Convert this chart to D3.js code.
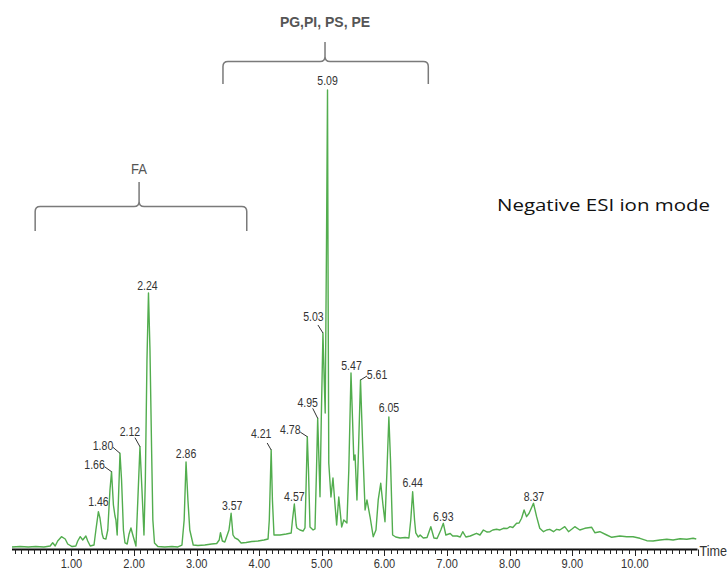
<!DOCTYPE html>
<html>
<head>
<meta charset="utf-8">
<script src="https://cdn.jsdelivr.net/npm/d3@7"></script>
<style>
  html, body { margin: 0; padding: 0; background: #fff; }
  svg { display: block; }
</style>
</head>
<body>
<svg id="chart" width="728" height="571"></svg>
<script>
// ---------------- DATA ----------------
// retention time (min)
const times = [
  0.05, 0.18, 0.31, 0.43, 0.56, 0.66, 0.70, 0.74, 0.78, 0.84, 0.90, 0.94,
  1.01, 1.07, 1.10, 1.14, 1.18, 1.23, 1.26, 1.30, 1.36, 1.39, 1.43, 1.455,
  1.49, 1.51, 1.55, 1.58, 1.615, 1.64, 1.67, 1.695, 1.71, 1.73, 1.75, 1.775,
  1.80, 1.83, 1.855, 1.89, 1.92, 1.95, 1.98, 2.03, 2.06, 2.094, 2.126, 2.158,
  2.18, 2.206, 2.23, 2.254, 2.28, 2.30, 2.326, 2.38, 2.49, 2.605, 2.70, 2.765,
  2.80, 2.83, 2.86, 2.89, 2.945, 3.02, 3.13, 3.24, 3.32, 3.36, 3.38, 3.41,
  3.45, 3.516, 3.55, 3.58, 3.61, 3.66, 3.71, 3.79, 3.88, 3.98, 4.075, 4.14,
  4.16, 4.19, 4.21, 4.235, 4.33, 4.43, 4.51, 4.53, 4.56, 4.59, 4.60, 4.65,
  4.70, 4.73, 4.746, 4.767, 4.786, 4.81, 4.86, 4.89, 4.914, 4.933, 4.953, 4.97,
  4.99, 5.017, 5.037, 5.053, 5.073, 5.09, 5.10, 5.11, 5.145, 5.177, 5.21, 5.236,
  5.27, 5.316, 5.35, 5.40, 5.43, 5.465, 5.49, 5.51, 5.53, 5.56, 5.585, 5.617,
  5.65, 5.69, 5.72, 5.77, 5.82, 5.864, 5.90, 5.94, 5.976, 6.008, 6.04, 6.07,
  6.096, 6.115, 6.13, 6.18, 6.25, 6.33, 6.39, 6.42, 6.45, 6.48, 6.50, 6.54,
  6.57, 6.62, 6.68, 6.74, 6.79, 6.84, 6.90, 6.94, 6.98, 7.05, 7.09, 7.16,
  7.21, 7.25, 7.30, 7.37, 7.47, 7.525, 7.58, 7.64, 7.685, 7.73, 7.79, 7.845,
  7.90, 7.96, 8.005, 8.05, 8.11, 8.15, 8.19, 8.23, 8.27, 8.31, 8.38, 8.43,
  8.48, 8.54, 8.59, 8.64, 8.70, 8.75, 8.80, 8.88, 8.94, 8.99, 9.04, 9.12,
  9.20, 9.31, 9.36, 9.44, 9.55, 9.63, 9.76, 9.87, 9.97, 10.08, 10.19, 10.29,
  10.40, 10.51, 10.61, 10.72, 10.83, 10.93, 10.98
];
// relative intensity (%)
const intensities = [
  0.44, 0.54, 0.44, 0.54, 0.44, 0.65, 1.37, 0.65, 1.74, 2.68, 2.18, 1.09,
  0.54, 0.65, 1.74, 2.68, 1.96, 2.83, 1.74, 0.65, 0.87, 4.14, 8.13, 6.75,
  3.27, 2.33, 2.18, 4.14, 12.85, 16.84, 9.59, 7.19, 6.32, 3.05, 10.68, 20.85,
  15.03, 4.14, 1.31, 1.09, 3.27, 4.58, 3.05, 0.65, 10.68, 22.29, 12.85, 3.05,
  15.03, 41.18, 55.77, 43.35, 21.57, 6.32, 1.31, 0.54, 0.44, 0.54, 0.44, 0.87,
  6.32, 18.95, 10.68, 4.14, 0.87, 0.76, 0.87, 1.09, 1.20, 1.96, 3.55, 1.74,
  1.52, 4.14, 7.78, 3.05, 2.40, 2.07, 1.31, 1.42, 1.63, 1.74, 1.96, 2.18,
  6.32, 21.57, 10.68, 3.05, 3.05, 3.27, 3.49, 6.32, 9.80, 5.23, 4.58, 4.14,
  3.92, 4.58, 12.85, 24.47, 17.21, 4.79, 4.14, 4.36, 17.21, 28.47, 19.39, 11.39,
  28.10, 47.06, 36.82, 29.63, 65.14, 100.0, 54.25, 18.74, 11.33, 15.47, 9.59, 5.23,
  11.33, 4.79, 6.32, 5.66, 17.21, 38.34, 28.10, 19.39, 20.48, 10.68, 21.57, 36.82,
  23.09, 8.50, 10.68, 6.97, 2.68, 4.14, 10.68, 14.31, 9.59, 5.95, 17.21, 28.76,
  19.39, 10.02, 3.05, 2.61, 2.40, 2.51, 2.40, 6.32, 12.48, 6.32, 3.49, 2.61,
  3.05, 2.40, 2.51, 4.86, 2.40, 2.29, 4.14, 5.60, 3.05, 3.38, 2.83, 2.83,
  2.61, 3.77, 2.61, 2.83, 3.42, 3.05, 4.14, 3.70, 3.77, 4.14, 4.29, 4.14,
  4.51, 4.47, 4.86, 4.68, 5.60, 5.66, 6.69, 8.50, 7.04, 7.78, 9.96, 7.04,
  4.51, 3.77, 4.14, 4.29, 3.77, 4.29, 4.14, 4.86, 3.77, 4.29, 4.86, 4.14,
  4.51, 4.73, 3.55, 3.77, 3.05, 2.55, 2.83, 2.68, 2.68, 2.33, 1.81, 1.74,
  1.96, 2.11, 1.96, 2.24, 2.11, 2.33, 2.18
];
// labelled peaks (retention times)
const peakLabels = ["1.46","1.66","1.80","2.12","2.24","2.86","3.57","4.21","4.57",
  "4.78","4.95","5.03","5.09","5.47","5.61","6.05","6.44","6.93","8.37"];
// x axis tick labels
const tickValues = [1,2,3,4,5,6,7,8,9,10];
const tickLabels = ["1.00","2.00","3.00","4.00","5.00","6.00","7.00","8.00","9.00","10.00"];
// lipid class groups (time ranges)
const groupNames = ["FA", "PG,PI, PS, PE"];
const groupStart = [0.42, 3.42];
const groupEnd   = [3.80, 6.70];
const groupMid   = [2.08, 5.05];
const modeText = "Negative ESI ion mode";
const axisTitle = "Time";

// ---------------- LAYOUT (positions / styles) ----------------
// label centre offset from apex [dx, dy], optional leader end offset [lx, ly]
const labelLayout = {
  "1.46": {d:[0,-10]},  "1.66": {d:[-17,-8], l:[-7,-5]},
  "1.80": {d:[-17,-8], l:[-7,-6]}, "2.12": {d:[-10,-15], l:[-5,-9]},
  "2.24": {d:[-1,-8]},  "2.86": {d:[0,-9]},  "3.57": {d:[1,-8]},
  "4.21": {d:[-10,-16.5], l:[-4,-7]}, "4.57": {d:[0,-7.5]},
  "4.78": {d:[-17,-7.5], l:[-7,-4.5]}, "4.95": {d:[-10,-16.5], l:[-5,-10]},
  "5.03": {d:[-9.5,-16.3], l:[-5,-8]}, "5.09": {d:[0,-10]},
  "5.47": {d:[0.5,-8]}, "5.61": {d:[16.5,-6], l:[6.5,-4]},
  "6.05": {d:[0,-9.7]}, "6.44": {d:[0,-9.4]}, "6.93": {d:[0,-7.3]}, "8.37": {d:[0.5,-7.3]}
};

const svg = d3.select("#chart");
const x = d3.scaleLinear().domain([0.05, 11]).range([12, 697.5]);
const y = d3.scaleLinear().domain([0, 100]).range([549, 90]);
const textColor = "#333333";
const green = "#52ad4e";

function scaledText(g, tx, ty, str, size, sx, opts = {}) {
  return g.append("text")
    .attr("transform", `translate(${tx},${ty}) scale(${sx},1)`)
    .attr("text-anchor", opts.anchor || "middle")
    .attr("font-family", opts.family || "'Liberation Sans', Arial, sans-serif")
    .attr("font-size", size)
    .attr("font-weight", opts.weight || "normal")
    .attr("fill", opts.fill || textColor)
    .text(str);
}

// ---------------- TRACE ----------------
const pts = times.map((t, i) => [t, intensities[i]]);
svg.append("path")
  .datum(pts)
  .attr("fill", "none")
  .attr("stroke", green)
  .attr("stroke-width", 1.4)
  .attr("stroke-linejoin", "round")
  .attr("d", d3.line().x(d => x(d[0])).y(d => y(d[1])));

// ---------------- AXIS ----------------
const axisY = 549.5;
const axisG = svg.append("g");
axisG.append("line")
  .attr("x1", x(0.05)).attr("x2", x(11.0))
  .attr("y1", axisY).attr("y2", axisY)
  .attr("stroke", "#111").attr("stroke-width", 2.2);
const minorTicks = d3.range(1, 111).map(i => i / 10);
axisG.selectAll("line.tick").data(minorTicks).join("line")
  .attr("class", "tick")
  .attr("x1", d => Math.round(x(d)) + 0.5).attr("x2", d => Math.round(x(d)) + 0.5)
  .attr("y1", axisY)
  .attr("y2", (d) => Math.abs(d - Math.round(d)) < 1e-6 ? axisY + 6.5 : axisY + 4.5)
  .attr("stroke", "#222").attr("stroke-width", 1);
tickValues.forEach((v, i) => {
  scaledText(axisG, x(v), 568, tickLabels[i], 13.5, 0.82);
});
scaledText(axisG, 699.5, 555.5, axisTitle, 14, 0.9, {anchor: "start"});

// ---------------- PEAK LABELS ----------------
peakLabels.forEach(lab => {
  const t0 = +lab;
  let best = null;
  pts.forEach(p => {
    if (Math.abs(p[0] - t0) <= 0.035 && (!best || p[1] > best[1])) best = p;
  });
  const ax = x(best[0]), ay = y(best[1]);
  const lay = labelLayout[lab];
  if (lay.l) {
    svg.append("line")
      .attr("x1", ax).attr("y1", ay)
      .attr("x2", ax + lay.l[0]).attr("y2", ay + lay.l[1])
      .attr("stroke", "#333").attr("stroke-width", 1);
  }
  scaledText(svg, ax + lay.d[0], ay + lay.d[1] + 4.8, lab, 13.5, 0.78);
});

// ---------------- GROUP BRACKETS ----------------
const bracketLayout = [
  {yTip: 182, yH: 206.5, yB: 231, labelY: 173.5, size: 14.5, weight: "normal", sx: 0.9},
  {yTip: 42, yH: 61.5, yB: 84, labelY: 27, size: 14, weight: "bold", sx: 1.0}
];
groupNames.forEach((name, i) => {
  const L = bracketLayout[i];
  const x0 = x(groupStart[i]), x1 = x(groupEnd[i]), xm = x(groupMid[i]);
  const r = 5;
  const p = `M${x0},${L.yB} L${x0},${L.yH + r} Q${x0},${L.yH} ${x0 + r},${L.yH} L${xm - r},${L.yH} Q${xm},${L.yH} ${xm},${L.yH - r} L${xm},${L.yTip}`
          + ` M${xm},${L.yH - r} Q${xm},${L.yH} ${xm + r},${L.yH} L${x1 - r},${L.yH} Q${x1},${L.yH} ${x1},${L.yH + r} L${x1},${L.yB}`;
  svg.append("path").attr("d", p)
    .attr("fill", "none").attr("stroke", "#7a7a7a").attr("stroke-width", 1.5);
  scaledText(svg, xm, L.labelY, name, L.size, L.sx, {weight: L.weight, fill: "#555"});
});

// ---------------- MODE TEXT ----------------
svg.append("text")
  .attr("x", 497).attr("y", 211)
  .attr("font-family", "'Open Sans', 'Noto Sans', sans-serif")
  .attr("font-size", 16)
  .attr("textLength", 213)
  .attr("lengthAdjust", "spacingAndGlyphs")
  .attr("fill", "#111")
  .text(modeText);
</script>
</body>
</html>
